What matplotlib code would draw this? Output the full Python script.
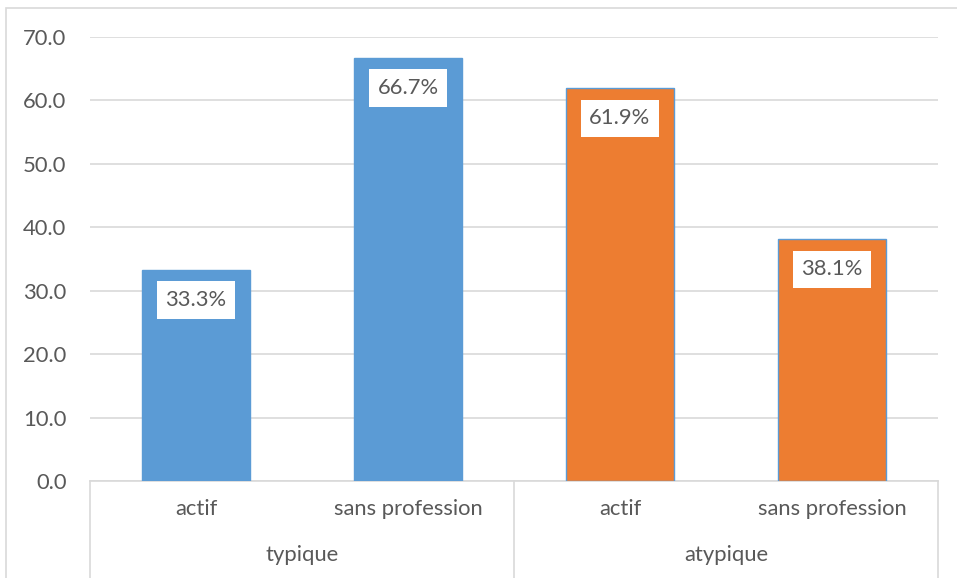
import matplotlib.pyplot as plt
from matplotlib.lines import Line2D
from matplotlib.patches import Rectangle

# data
groups = ["typique", "atypique"]
categories = ["actif", "sans profession", "actif", "sans profession"]
values = [33.3, 66.7, 61.9, 38.1]
bar_colors = ["#5B9BD5", "#5B9BD5", "#ED7D31", "#ED7D31"]
yticks = [0, 10, 20, 30, 40, 50, 60, 70]

W, H = 957, 578
fig = plt.figure(figsize=(W / 100, H / 100), dpi=100)
plt.rcParams['font.family'] = ['Lato', 'DejaVu Sans']
grey = "#595959"
line_grey = "#D9D9D9"
fs = 15.8

def fx(px):
    return px / W

def fy(py):
    return 1 - py / H

# outer chart border (cut at the right and bottom edge)
fig.patches.append(Rectangle((fx(6), -0.1), 1.2, fy(8) + 0.1, transform=fig.transFigure,
                             fill=False, edgecolor=line_grey, linewidth=1.2))

ax = fig.add_axes([fx(90), fy(481), fx(938) - fx(90), fy(37) - fy(481)])
x = list(range(len(values)))
bars = ax.bar(x, values, width=0.505, color=bar_colors, edgecolor="#5B9BD5", linewidth=1, zorder=3)

ax.set_xlim(-0.5, 3.5)
ax.set_ylim(0, 70)
ax.set_yticks(yticks)
ax.set_yticklabels([f"{v:.1f}" for v in yticks], color=grey, fontsize=fs)
ax.tick_params(axis="y", length=0, pad=17)
ax.set_xticks([])
ax.grid(axis="y", color=line_grey, linewidth=1.2, zorder=0)
for s in ["top", "right", "left"]:
    ax.spines[s].set_visible(False)
ax.spines["bottom"].set_color(line_grey)
ax.spines["bottom"].set_linewidth(1.2)

# data labels in white boxes
for b, v in zip(bars, values):
    ax.annotate(f"{v:.1f}%", (b.get_x() + b.get_width() / 2, v), xytext=(0, -30),
                textcoords="offset pixels", ha="center", va="center", color=grey, fontsize=fs,
                bbox=dict(boxstyle="square,pad=0.4", facecolor="white", edgecolor="none"), zorder=4)

# category labels and group labels under the axis
for i, c in enumerate(categories):
    cx = fx(90) + (i + 0.5) * (fx(938) - fx(90)) / 4
    fig.text(cx, fy(509), c, ha="center", va="center", color=grey, fontsize=fs)
for j, g in enumerate(groups):
    gx = fx(90) + (j + 0.5) * (fx(938) - fx(90)) / 2
    fig.text(gx, fy(555), g, ha="center", va="center", color=grey, fontsize=fs)

# separator lines between groups
for px in [90, 514, 938]:
    fig.add_artist(Line2D([fx(px), fx(px)], [fy(481), fy(578)], transform=fig.transFigure,
                          color=line_grey, linewidth=1.2))

fig.savefig("out.png", dpi=100)
